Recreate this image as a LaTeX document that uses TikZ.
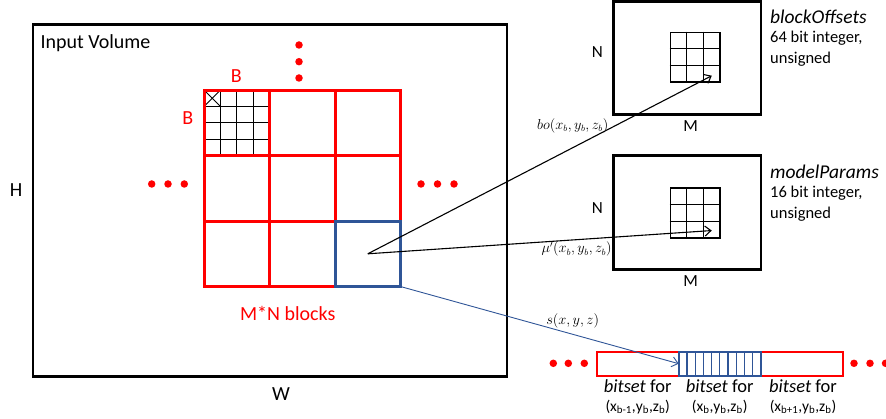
\documentclass[tikz,border=0pt]{standalone}
\usepackage{fontspec}
\setmainfont{Carlito}
\usepackage{xcolor}
\usepackage{tikz}
\usetikzlibrary{arrows.meta,positioning,calc,backgrounds}
\definecolor{blockred}{RGB}{255,0,0}
\definecolor{selblue}{RGB}{47,85,151}

\begin{document}
\begin{tikzpicture}[
  x=1pt,y=-1pt,>={Straight Barb[length=6pt,width=10pt]},
  volbox/.style={draw,line width=2.4pt,inner sep=0pt,outer sep=0pt},
  block/.style={draw=blockred,line width=3pt,minimum size=65.5pt,
    inner sep=0pt,outer sep=0pt},
  lookup/.style={draw,line width=1.6pt,minimum size=49.5pt,inner sep=0pt},
  bitcell/.style={draw=blockred,line width=2.2pt,minimum width=82pt,
    minimum height=24pt,inner sep=0pt,outer sep=0pt},
  reddot/.style={circle,fill=blockred,minimum size=7.5pt,inner sep=0pt},
  fine/.style={line width=0.8pt},
  flow/.style={->,line width=1.1pt},
  biglabel/.style={font=\fontsize{20}{24}\selectfont},
  dimlabel/.style={font=\fontsize{17}{20}\selectfont},
  sidetitle/.style={font=\fontsize{19.5}{21}\selectfont\itshape,
    anchor=base west,inner sep=0pt},
  sidetext/.style={font=\fontsize{16.5}{21}\selectfont,align=left,
    anchor=north west,inner sep=0pt},
  maplabel/.style={font=\fontsize{13.5}{15}\selectfont},
  setlabel/.style={font=\fontsize{18.5}{20}\selectfont,align=center,
    anchor=north,inner sep=0pt}
]
  \useasboundingbox (0,0) rectangle (886,419);

  % input volume and its M*N blocks
  \node[volbox,minimum width=474pt,minimum height=352pt] (volume)
    at (270.2,200.5) {};
  \node[biglabel,anchor=west] (voltitle) at (37,43) {Input Volume};
  \node[biglabel] (height) at (16,190) {H};
  \node[biglabel] (width) at (281,394) {W};

  \foreach \i in {0,1,2}
    \foreach \j in {0,1,2}
      \node[block] (cell-\i-\j) at ({236.8+65.5*\i},{122.8+65.5*\j}) {};
  \node[block,draw=selblue] (selected) at (cell-2-2) {};

  \begin{scope}[on background layer]
    \foreach \k in {1,2,3} {
      \draw[fine] ($(cell-0-0.north west)!\k/4!(cell-0-0.north east)$)
        -- ($(cell-0-0.south west)!\k/4!(cell-0-0.south east)$);
      \draw[fine] ($(cell-0-0.north west)!\k/4!(cell-0-0.south west)$)
        -- ($(cell-0-0.north east)!\k/4!(cell-0-0.south east)$);
    }
    \draw[fine] (cell-0-0.north west) -- ($(cell-0-0.north west)+(16.4,16.4)$)
      ($(cell-0-0.north west)+(16.4,0)$) -- ($(cell-0-0.north west)+(0,16.4)$);
  \end{scope}

  \node[biglabel,text=blockred] (blockw) at (236.3,76) {B};
  \node[biglabel,text=blockred] (blockh) at (187.7,118.3) {B};
  \node[biglabel,text=blockred] (blockcount) at (287.7,313) {M*N blocks};

  \foreach \n/\y in {1/45,2/61.7,3/78}
    \node[reddot] (updot-\n) at (299,\y) {};
  \foreach \n/\x in {1/151.7,2/168,3/184.3}
    \node[reddot] (leftdot-\n) at (\x,184) {};
  \foreach \n/\x in {1/421,2/437.5,3/454}
    \node[reddot] (rightdot-\n) at (\x,184) {};

  % lookup tables
  \node[volbox,minimum width=147.4pt,minimum height=113pt] (offsetmap)
    at (687,58) {};
  \node[lookup] (offsetgrid) at (695.2,57.2) {};
  \node[volbox,minimum width=147.4pt,minimum height=114pt] (parammap)
    at (687,212.7) {};
  \node[lookup] (paramgrid) at (695.2,213) {};
  \foreach \g in {offsetgrid,paramgrid}
    \foreach \k in {1,2} {
      \draw[fine] ($(\g.north west)!\k/3!(\g.north east)$)
        -- ($(\g.south west)!\k/3!(\g.south east)$);
      \draw[fine] ($(\g.north west)!\k/3!(\g.south west)$)
        -- ($(\g.north east)!\k/3!(\g.south east)$);
    }

  \node[dimlabel] (offsetN) at (597.3,51.7) {N};
  \node[dimlabel] (offsetM) at (690.7,126) {M};
  \node[dimlabel] (paramN) at (597.3,208.3) {N};
  \node[dimlabel] (paramM) at (690.7,280.7) {M};
  \node[sidetitle] (offsettitle) at (770,23.3) {blockOffsets};
  \node[sidetext] (offsetinfo) at (770,30.5) {64 bit integer,\\unsigned};
  \node[sidetitle] (paramtitle) at (770,178.3) {modelParams};
  \node[sidetext] (paraminfo) at (770,185.5) {16 bit integer,\\unsigned};

  % bitsets
  \node[bitcell] (prevset) at (637.7,363.7) {};
  \node[bitcell,right=82pt of prevset] (nextset) {};
  \node[bitcell,draw=selblue,right=0pt of prevset] (curset) {};
  \foreach \k in {1,...,9}
    \draw[selblue,line width=1.2pt]
      ($(curset.north west)!\k/10!(curset.north east)$)
      -- ($(curset.south west)!\k/10!(curset.south east)$);

  \node[setlabel] (prevlabel) at (637.7,379)
    {\textit{bitset} for\\[-1pt]{\fontsize{15.5}{17}\selectfont
     (x\textsubscript{b-1},y\textsubscript{b},z\textsubscript{b})}};
  \node[setlabel] (curlabel) at (719.7,379)
    {\textit{bitset} for\\[-1pt]{\fontsize{15.5}{17}\selectfont
     (x\textsubscript{b},y\textsubscript{b},z\textsubscript{b})}};
  \node[setlabel] (nextlabel) at (803,379)
    {\textit{bitset} for\\[-1pt]{\fontsize{15.5}{17}\selectfont
     (x\textsubscript{b+1},y\textsubscript{b},z\textsubscript{b})}};

  \foreach \n/\x in {1/553.3,2/568.3,3/584.3}
    \node[reddot] (setdotl-\n) at (\x,363.3) {};
  \foreach \n/\x in {1/854,2/870,3/885.5}
    \node[reddot] (setdotr-\n) at (\x,363.3) {};

  % mappings
  \coordinate (offsettarget) at ($(offsetgrid.south east)+(-9,-7)$);
  \coordinate (paramtarget) at ($(paramgrid.south east)+(-9,-8)$);
  \draw[flow] (selected.center) -- (offsettarget);
  \draw[flow] (selected.center) -- (paramtarget);
  \draw[flow,selblue,line width=0.9pt] (selected.south east) -- (curset.west);

  \node[maplabel] (offsetlabel) at (572.7,125.7) {$bo(x_b,y_b,z_b)$};
  \node[maplabel] (paramlabel) at (576.7,249.3) {$\mu'(x_b,y_b,z_b)$};
  \node[maplabel] (setlabel) at (572.7,320.7) {$s(x,y,z)$};
\end{tikzpicture}
\end{document}
